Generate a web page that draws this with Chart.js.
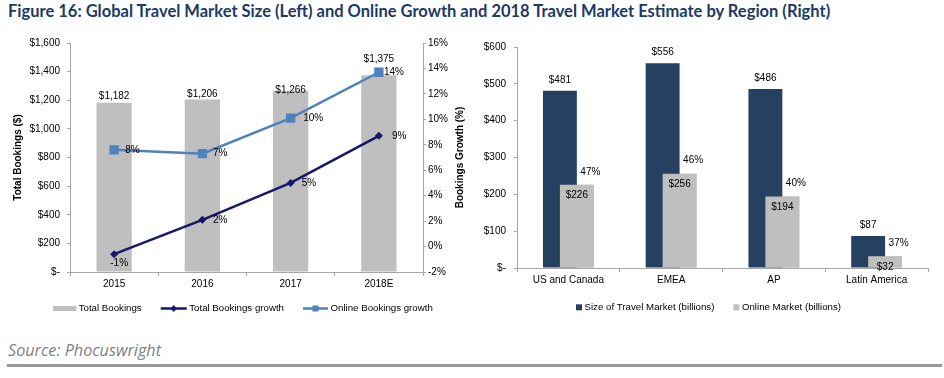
<!DOCTYPE html>
<html>
<head>
<meta charset="utf-8">
<script src="https://cdn.jsdelivr.net/npm/chart.js@4.4.1/dist/chart.umd.min.js"></script>
<style>
  html, body { margin: 0; padding: 0; background: #fff; width: 944px; height: 378px; overflow: hidden; }
  #title { position: absolute; left: 8px; top: 1px; font-family: Lato, 'Open Sans', sans-serif; font-weight: bold; font-size: 16px; color: #1b3a66; white-space: nowrap; line-height: 20px; }
  #leftWrap { position: absolute; left: 0; top: 30px; width: 470px; height: 295px; }
  #rightWrap { position: absolute; left: 470px; top: 30px; width: 474px; height: 295px; }
  #source { position: absolute; left: 8px; top: 341px; font-family: 'Open Sans', Lato, sans-serif; font-style: italic; font-size: 14px; color: #7f7f7f; white-space: nowrap; line-height: 18px; }
  #rule { position: absolute; left: 7px; top: 364px; width: 935px; height: 3px; background: #999; }
</style>
</head>
<body>
<div id="title">Figure 16: Global Travel Market Size (Left) and Online Growth and 2018 Travel Market Estimate by Region (Right)</div>
<div id="leftWrap"><canvas id="leftChart"></canvas></div>
<div id="rightWrap"><canvas id="rightChart"></canvas></div>
<div id="source">Source: Phocuswright</div>
<div id="rule"></div>
<script>
// ---------------- DATA ----------------
const years = ['2015', '2016', '2017', '2018E'];
const totalBookings = [1182, 1206, 1266, 1375];       // $ billions
const totalBookingsGrowth = [-0.6, 2.1, 5.0, 8.7];    // %
const onlineBookingsGrowth = [7.6, 7.3, 10.1, 13.7];  // %
const bookingsTicks = { min: 0, max: 1600, step: 200 };
const growthTicks = { min: -2, max: 16, step: 2 };

const regions = ['US and Canada', 'EMEA', 'AP', 'Latin America'];
const travelMarket = [481, 556, 486, 87];   // $ billions
const onlineMarket = [226, 256, 194, 32];   // $ billions
const onlineShare = [47, 46, 40, 37];       // %
const regionTicks = { min: 0, max: 600, step: 100 };

// ---------------- STYLE ----------------
const FONT = "'Liberation Sans', Arial, sans-serif";
const AXIS = '#a6a6a6';
const GREY_BAR = '#bfbfbf';
const NAVY = '#16166b';
const BLUE = '#4f81bd';
const DARK_BAR = '#254061';
// label nudges (px) for the bar-value labels on the left chart, as placed in the original
const bookingsLabelNudge = [-7, -5, -1, -16];
const onlineLabelDx = [11, 10.5, 12.5, 5];
const totalLabelDx = [0, 10.5, 11, 13];

Chart.defaults.font.family = FONT;
Chart.defaults.font.size = 10;
Chart.defaults.color = '#000';
Chart.defaults.animation = false;
Chart.defaults.devicePixelRatio = 1;

// fit title / source widths
(function fitText() {
  const c = document.createElement('canvas').getContext('2d');
  function fit(id, css, target) {
    c.font = css.replace('SIZE', '100px');
    const w = c.measureText(document.getElementById(id).textContent).width;
    document.getElementById(id).style.fontSize = (100 * target / w).toFixed(2) + 'px';
  }
  fit('title', "bold SIZE Lato", 824);
  fit('source', "italic SIZE 'Open Sans'", 153);
})();

function dollar(v) { return v === 0 ? '$-' : '$' + v.toLocaleString('en-US'); }

function drawLegend(ctx, items, cx, cy) {
  ctx.save();
  ctx.font = '9.7px ' + FONT;
  ctx.textBaseline = 'middle';
  const gapSym = 2.5, gapItem = 19;
  let total = 0;
  items.forEach((it, i) => {
    it.tw = ctx.measureText(it.text).width;
    total += it.w + gapSym + it.tw + (i < items.length - 1 ? gapItem : 0);
  });
  let x = cx - total / 2;
  items.forEach(it => {
    if (it.type === 'rect') {
      ctx.fillStyle = it.color;
      ctx.fillRect(x, cy - it.h / 2, it.w, it.h);
    } else {
      ctx.strokeStyle = it.color; ctx.lineWidth = 2.5;
      ctx.beginPath(); ctx.moveTo(x, cy); ctx.lineTo(x + it.w, cy); ctx.stroke();
      ctx.fillStyle = it.color;
      const mx = x + it.w / 2;
      if (it.marker === 'diamond') {
        ctx.beginPath(); ctx.moveTo(mx, cy - 3.5); ctx.lineTo(mx + 3, cy); ctx.lineTo(mx, cy + 3.5); ctx.lineTo(mx - 3, cy); ctx.closePath(); ctx.fill();
      } else {
        ctx.fillRect(mx - 3, cy - 3, 6, 6);
      }
    }
    x += it.w + gapSym;
    ctx.fillStyle = '#000';
    ctx.textAlign = 'left';
    ctx.fillText(it.text, x, cy);
    x += it.tw + gapItem;
  });
  ctx.restore();
}

// ---------------- LEFT CHART ----------------
const leftPlugin = {
  id: 'leftDecor',
  afterDatasetsDraw(chart) {
    const ctx = chart.ctx;
    ctx.save();
    ctx.font = '10px ' + FONT;
    ctx.fillStyle = '#000';
    ctx.textBaseline = 'middle';
    // bar value labels
    chart.getDatasetMeta(0).data.forEach((el, i) => {
      ctx.textAlign = 'center';
      ctx.fillText(dollar(totalBookings[i]), el.x, el.y + bookingsLabelNudge[i]);
    });
    // total growth labels
    chart.getDatasetMeta(1).data.forEach((el, i) => {
      const txt = Math.round(totalBookingsGrowth[i]) + '%';
      if (totalBookingsGrowth[i] < 0) {
        ctx.textAlign = 'center';
        ctx.fillText(txt, el.x + 5, el.y + 9.5);
      } else {
        ctx.textAlign = 'left';
        ctx.fillText(txt, el.x + totalLabelDx[i], el.y);
      }
    });
    // online growth labels
    chart.getDatasetMeta(2).data.forEach((el, i) => {
      ctx.textAlign = 'left';
      ctx.fillText(Math.round(onlineBookingsGrowth[i]) + '%', el.x + onlineLabelDx[i], el.y);
    });
    ctx.restore();
  },
  afterDraw(chart) {
    const ctx = chart.ctx;
    const y1 = chart.scales.y1;
    // right axis title, reading bottom-to-top
    ctx.save();
    ctx.font = 'bold 10px ' + FONT;
    ctx.fillStyle = '#000';
    ctx.textAlign = 'center';
    ctx.textBaseline = 'middle';
    ctx.translate(460, (chart.chartArea.top + chart.chartArea.bottom) / 2);
    ctx.rotate(-Math.PI / 2);
    ctx.fillText('Bookings Growth (%)', 0, 0);
    ctx.restore();
    drawLegend(ctx, [
      { type: 'rect', w: 23, h: 5, color: GREY_BAR, text: 'Total Bookings' },
      { type: 'line', w: 26, color: NAVY, marker: 'diamond', text: 'Total Bookings growth' },
      { type: 'line', w: 25, color: BLUE, marker: 'square', text: 'Online Bookings growth' }
    ], 243, 278.5);
  }
};

new Chart(document.getElementById('leftChart'), {
  data: {
    labels: years,
    datasets: [
      { type: 'bar', label: 'Total Bookings', data: totalBookings, backgroundColor: GREY_BAR,
        categoryPercentage: 0.8, barPercentage: 0.5, yAxisID: 'y', order: 2 },
      { type: 'line', label: 'Total Bookings growth', data: totalBookingsGrowth, borderColor: NAVY,
        backgroundColor: NAVY, borderWidth: 2.5, pointStyle: 'rectRot', pointRadius: 4,
        pointBackgroundColor: NAVY, pointBorderColor: NAVY, pointBorderWidth: 0, yAxisID: 'y1', order: 1, tension: 0 },
      { type: 'line', label: 'Online Bookings growth', data: onlineBookingsGrowth, borderColor: BLUE,
        backgroundColor: BLUE, borderWidth: 2.5, pointStyle: 'rect', pointRadius: 6.6,
        pointBackgroundColor: BLUE, pointBorderColor: BLUE, pointBorderWidth: 0, yAxisID: 'y1', order: 0, tension: 0 }
    ]
  },
  options: {
    responsive: true, maintainAspectRatio: false,
    layout: { padding: { top: 13, bottom: 33, left: 0, right: 0 } },
    plugins: { legend: { display: false }, tooltip: { enabled: false } },
    scales: {
      x: {
        offset: true,
        grid: { display: true, drawOnChartArea: false, offset: true, tickLength: 4, color: AXIS },
        border: { color: AXIS, width: 1 },
        ticks: { padding: 2, font: { size: 10 } },
        afterFit: s => { s.height = 20; }
      },
      y: {
        position: 'left', min: bookingsTicks.min, max: bookingsTicks.max,
        ticks: { stepSize: bookingsTicks.step, callback: v => dollar(v), padding: 7 },
        grid: { drawOnChartArea: false, tickLength: 3, color: AXIS },
        border: { color: AXIS, width: 1 },
        title: { display: true, text: 'Total Bookings ($)', font: { weight: 'bold', size: 10 }, padding: { top: 12, bottom: 0 } },
        afterFit: s => { s.width = 70; }
      },
      y1: {
        position: 'right', min: growthTicks.min, max: growthTicks.max,
        ticks: { stepSize: growthTicks.step, callback: v => v + '%', padding: 2 },
        grid: { drawOnChartArea: false, tickLength: 3, color: AXIS },
        border: { color: AXIS, width: 1 },
        afterFit: s => { s.width = 47; }
      }
    }
  },
  plugins: [leftPlugin]
});

// ---------------- RIGHT CHART ----------------
const rightPlugin = {
  id: 'rightDecor',
  afterDatasetsDraw(chart) {
    const ctx = chart.ctx;
    // grey (online) bars sit in front of the dark bars: draw them again on top
    ctx.save();
    chart.getDatasetMeta(1).controller.draw();
    ctx.restore();
    ctx.save();
    ctx.font = '10px ' + FONT;
    ctx.fillStyle = '#000';
    ctx.textBaseline = 'middle';
    ctx.textAlign = 'center';
    chart.getDatasetMeta(0).data.forEach((el, i) => {
      ctx.fillText('$' + travelMarket[i], el.x, el.y - 11);
    });
    chart.getDatasetMeta(1).data.forEach((el, i) => {
      ctx.fillText('$' + onlineMarket[i], el.x, el.y + 10.7);
      ctx.fillText(onlineShare[i] + '%', el.x + 13.5, el.y - 13);
    });
    ctx.restore();
  },
  afterDraw(chart) {
    drawLegend(chart.ctx, [
      { type: 'rect', w: 6, h: 6, color: DARK_BAR, text: 'Size of Travel Market (billions)' },
      { type: 'rect', w: 6, h: 6, color: GREY_BAR, text: 'Online Market (billions)' }
    ], 238.5, 277.3);
  }
};

new Chart(document.getElementById('rightChart'), {
  type: 'bar',
  data: {
    labels: regions,
    datasets: [
      { label: 'Size of Travel Market (billions)', data: travelMarket, backgroundColor: DARK_BAR,
        categoryPercentage: 0.33, barPercentage: 2.0 },
      { label: 'Online Market (billions)', data: onlineMarket, backgroundColor: GREY_BAR,
        categoryPercentage: 0.33, barPercentage: 2.0 }
    ]
  },
  options: {
    responsive: true, maintainAspectRatio: false,
    layout: { padding: { top: 17, bottom: 37, left: 0, right: 16 } },
    plugins: { legend: { display: false }, tooltip: { enabled: false } },
    scales: {
      x: {
        offset: true,
        grid: { display: true, drawOnChartArea: false, offset: true, tickLength: 4, color: AXIS },
        border: { color: AXIS, width: 1 },
        ticks: { padding: 2, font: { size: 10 } },
        afterFit: s => { s.height = 20; }
      },
      y: {
        min: regionTicks.min, max: regionTicks.max,
        ticks: { stepSize: regionTicks.step, callback: v => dollar(v), padding: 8 },
        grid: { drawOnChartArea: false, tickLength: 3, color: AXIS },
        border: { color: AXIS, width: 1 },
        afterFit: s => { s.width = 47; }
      }
    }
  },
  plugins: [rightPlugin]
});
</script>
</body>
</html>
